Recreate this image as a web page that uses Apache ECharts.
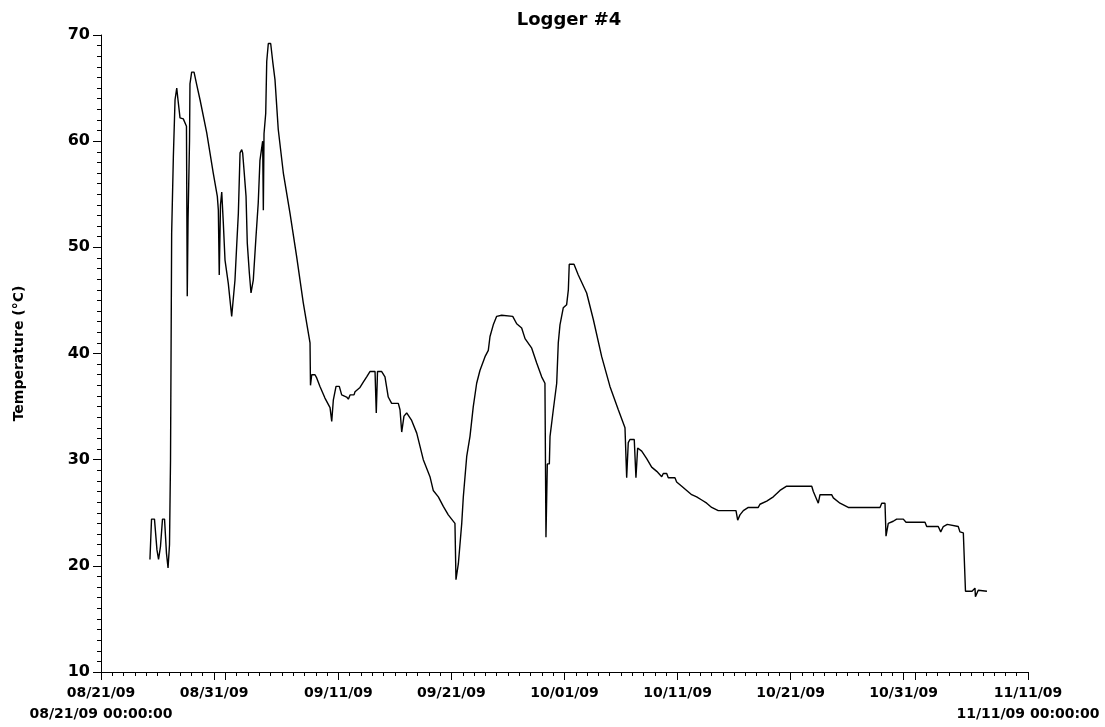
<!DOCTYPE html>
<html>
<head>
<meta charset="utf-8">
<title>Logger #4</title>
<script src="https://cdn.jsdelivr.net/npm/echarts@6/dist/echarts.min.js"></script>
<style>
  html, body { margin: 0; padding: 0; background: #fff; }
  #chart { width: 1105px; height: 727px; }
</style>
</head>
<body>
<div id="chart"></div>
<script>
// Logger #4 temperature record, 08/21/09 00:00 to 11/11/09 00:00.
const chartTitle = 'Logger #4';
const yAxisName = 'Temperature (°C)';

// Labelled x ticks, in days since 08/21/09 00:00:00
const tickDays = [0, 10, 21, 31, 41, 51, 61, 71, 82];
const tickLabels = ['08/21/09', '08/31/09', '09/11/09', '09/21/09', '10/01/09',
                    '10/11/09', '10/21/09', '10/31/09', '11/11/09'];
// First day of each month (long ticks)
const monthStartDays = [11, 41, 72];
const rangeStartStamp = '08/21/09 00:00:00';
const rangeEndStamp = '11/11/09 00:00:00';

// Temperature readings: elapsed days since range start, and °C
const elapsedDays = [
  4.33, 4.47, 4.73, 4.95, 5.09, 5.26, 5.44, 5.62, 5.79, 5.93,
  6.06, 6.15, 6.25, 6.40, 6.55, 6.70, 6.81, 6.99, 7.28, 7.56,
  7.63, 7.70, 7.83, 7.87, 8.02, 8.23, 8.47, 8.76, 9.35, 9.93,
  10.29, 10.38, 10.46, 10.57, 10.68, 10.82, 10.97, 11.26, 11.56, 11.70,
  11.85, 12.00, 12.15, 12.30, 12.45, 12.53, 12.65, 12.83, 12.94, 13.12,
  13.27, 13.47, 13.71, 13.91, 14.06, 14.30, 14.36, 14.42, 14.57, 14.66,
  14.80, 15.01, 15.19, 15.39, 15.68, 16.13, 16.72, 17.31, 17.89, 18.25,
  18.49, 18.53, 18.64, 18.93, 19.08, 19.37, 19.81, 20.26, 20.41, 20.55,
  20.79, 21.08, 21.29, 21.73, 21.88, 22.03, 22.38, 22.47, 22.91, 23.20,
  23.50, 23.79, 24.24, 24.35, 24.46, 24.83, 25.12, 25.41, 25.71, 26.30,
  26.45, 26.60, 26.80, 27.04, 27.48, 27.93, 28.51, 29.10, 29.39, 29.84,
  30.28, 30.72, 31.31, 31.40, 31.61, 31.91, 32.05, 32.35, 32.64, 32.93,
  33.23, 33.52, 33.97, 34.26, 34.41, 34.70, 35.00, 35.44, 36.42, 36.77,
  37.21, 37.51, 38.10, 38.54, 38.98, 39.27, 39.36, 39.48, 39.66, 39.72,
  40.01, 40.31, 40.45, 40.60, 40.89, 41.19, 41.34, 41.42, 41.84, 42.22,
  42.96, 43.55, 44.29, 45.02, 45.76, 46.35, 46.50, 46.64, 46.79, 47.17,
  47.32, 47.47, 47.83, 48.27, 48.71, 49.16, 49.60, 49.74, 50.04, 50.18,
  50.77, 50.92, 51.37, 51.81, 52.25, 52.69, 53.14, 53.58, 54.02, 54.60,
  56.17, 56.32, 56.52, 56.82, 57.26, 58.14, 58.29, 58.89, 59.47, 60.06,
  60.65, 62.87, 63.01, 63.45, 63.60, 64.63, 64.78, 65.37, 66.10, 68.91,
  69.06, 69.35, 69.44, 69.64, 70.08, 70.38, 70.97, 71.21, 72.89, 73.04,
  74.06, 74.28, 74.51, 74.86, 75.83, 75.98, 76.28, 76.43, 76.47, 77.05,
  77.31, 77.35, 77.60, 78.37
];
const temperatures = [
  20.6, 24.4, 24.4, 21.5, 20.6, 21.8, 24.4, 24.4, 21.2, 19.8,
  22.0, 30.0, 51.3, 58.5, 63.9, 65.0, 63.9, 62.2, 62.1, 61.4,
  45.4, 52.6, 60.0, 65.4, 66.5, 66.5, 65.3, 63.9, 60.8, 57.0,
  54.8, 53.5, 47.4, 54.0, 55.2, 52.3, 48.8, 46.6, 43.5, 43.6,
  46.9, 50.1, 53.2, 58.9, 59.2, 58.9, 57.3, 54.8, 50.4, 47.6,
  45.7, 46.9, 51.0, 54.2, 58.2, 60.0, 53.5, 60.7, 62.6, 67.5,
  69.2, 69.2, 67.5, 65.8, 61.1, 57.0, 53.2, 49.1, 44.8, 42.5,
  41.0, 37.0, 38.0, 38.0, 37.7, 36.9, 35.8, 34.9, 33.6, 35.6,
  36.9, 36.9, 36.1, 35.9, 35.7, 36.1, 36.1, 36.4, 36.8, 37.3,
  37.8, 38.3, 38.3, 34.4, 38.3, 38.3, 37.8, 35.9, 35.3, 35.3,
  34.7, 32.6, 34.1, 34.4, 33.7, 32.5, 30.0, 28.4, 27.1, 26.5,
  25.6, 24.8, 24.0, 18.7, 20.2, 24.0, 26.5, 30.3, 32.2, 35.0,
  37.2, 38.4, 39.7, 40.3, 41.6, 42.7, 43.5, 43.6, 43.5, 42.8,
  42.4, 41.4, 40.5, 39.1, 37.8, 37.2, 22.7, 29.6, 29.6, 32.2,
  34.7, 37.2, 41.0, 42.7, 44.3, 44.6, 46.0, 48.4, 48.4, 47.4,
  45.7, 43.2, 39.7, 36.9, 34.7, 33.0, 28.3, 31.6, 31.9, 31.9,
  28.3, 31.1, 30.8, 30.1, 29.3, 28.9, 28.4, 28.7, 28.7, 28.3,
  28.3, 27.9, 27.5, 27.1, 26.7, 26.5, 26.2, 25.9, 25.5, 25.2,
  25.2, 24.3, 24.8, 25.2, 25.5, 25.5, 25.8, 26.1, 26.5, 27.1,
  27.5, 27.5, 27.0, 25.9, 26.7, 26.7, 26.4, 25.9, 25.5, 25.5,
  25.9, 25.9, 22.8, 24.0, 24.2, 24.4, 24.4, 24.1, 24.1, 23.7,
  23.7, 23.2, 23.7, 23.9, 23.7, 23.2, 23.1, 23.1, 17.6, 17.6,
  17.9, 17.1, 17.7, 17.6
];

const FONT = '"DejaVu Sans", "Liberation Sans", sans-serif';
const INK = '#000';

const seriesData = elapsedDays.map((d, i) => [d, temperatures[i]]);
const longTickDays = Array.from(new Set(tickDays.concat(monthStartDays))).sort((a, b) => a - b);

function dayLabel(value) {
  const i = tickDays.indexOf(value);
  if (i < 0) return '';
  let text = tickLabels[i];
  if (i === 0) text += '\n' + rangeStartStamp;
  if (i === tickDays.length - 1) text += '\n' + rangeEndStamp;
  return text;
}

const chart = echarts.init(document.getElementById('chart'), null, { renderer: 'canvas' });
chart.setOption({
  animation: false,
  backgroundColor: '#fff',
  title: {
    text: chartTitle,
    left: 564,
    textAlign: 'center',
    top: 6,
    textStyle: { fontFamily: FONT, fontWeight: 'bold', fontSize: 18, color: INK }
  },
  grid: { left: 101, right: 77, top: 35, bottom: 55, containLabel: false },
  xAxis: [
    {
      type: 'value',
      min: 0,
      max: 82,
      position: 'bottom',
      axisLine: { show: true, lineStyle: { color: INK, width: 1 } },
      axisTick: { show: true, customValues: longTickDays, length: 8, lineStyle: { color: INK, width: 1 } },
      axisLabel: {
        customValues: tickDays,
        formatter: dayLabel,
        color: INK,
        fontFamily: FONT,
        fontWeight: 'bold',
        fontSize: 14,
        lineHeight: 21,
        margin: 11
      },
      splitLine: { show: false }
    },
    {
      // one short tick per day
      type: 'value',
      min: 0,
      max: 82,
      interval: 1,
      position: 'bottom',
      offset: 0,
      axisLine: { show: false },
      axisTick: { show: true, length: 4, lineStyle: { color: INK, width: 1 } },
      axisLabel: { show: false },
      splitLine: { show: false }
    }
  ],
  yAxis: {
    type: 'value',
    min: 10,
    max: 70,
    interval: 10,
    name: yAxisName,
    nameLocation: 'middle',
    nameGap: 75,
    nameTextStyle: { fontFamily: FONT, fontWeight: 'bold', fontSize: 14, color: INK },
    axisLine: { show: true, lineStyle: { color: INK, width: 1 } },
    axisTick: { show: true, length: 8, lineStyle: { color: INK, width: 1 } },
    minorTick: { show: true, splitNumber: 10, length: 4, lineStyle: { color: INK, width: 1 } },
    axisLabel: { color: INK, fontFamily: FONT, fontWeight: 'bold', fontSize: 16, margin: 11 },
    splitLine: { show: false }
  },
  series: [
    {
      type: 'line',
      xAxisIndex: 0,
      data: seriesData,
      symbol: 'none',
      showSymbol: false,
      lineStyle: { color: INK, width: 1.4 },
      emphasis: { disabled: true }
    }
  ]
});
</script>
</body>
</html>
